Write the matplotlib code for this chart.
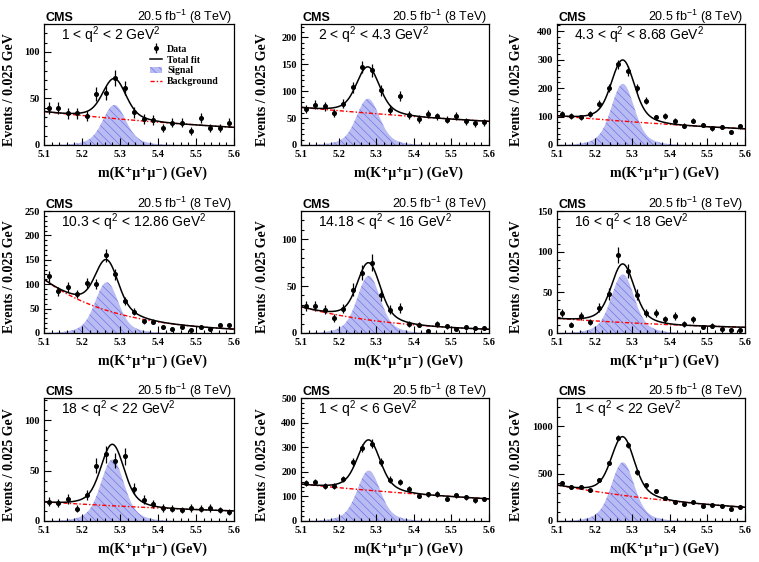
import numpy as np
import matplotlib
matplotlib.use('Agg')
import matplotlib.pyplot as plt
from matplotlib.lines import Line2D
from matplotlib.patches import Patch
from matplotlib.ticker import MultipleLocator

SERIF = ['Liberation Serif', 'DejaVu Serif']
SANS = ['Liberation Sans', 'DejaVu Sans']
plt.rcParams['hatch.linewidth'] = 0.45
plt.rcParams['mathtext.fontset'] = 'custom'
plt.rcParams['mathtext.rm'] = 'Liberation Sans'
plt.rcParams['mathtext.it'] = 'Liberation Sans:italic'
plt.rcParams['mathtext.bf'] = 'Liberation Sans:bold'
plt.rcParams['mathtext.default'] = 'rm'

# --- Binning: 20 bins of 0.025 GeV from 5.1 to 5.6 ---
M_LO, M_HI, BIN_W = 5.1, 5.6, 0.025
centres = M_LO + BIN_W * (np.arange(20) + 0.5)

q2_labels = [r'1 < q$^{2}$ < 2 GeV$^{2}$', r'2 < q$^{2}$ < 4.3 GeV$^{2}$',
             r'4.3 < q$^{2}$ < 8.68 GeV$^{2}$', r'10.3 < q$^{2}$ < 12.86 GeV$^{2}$',
             r'14.18 < q$^{2}$ < 16 GeV$^{2}$', r'16 < q$^{2}$ < 18 GeV$^{2}$',
             r'18 < q$^{2}$ < 22 GeV$^{2}$', r'1 < q$^{2}$ < 6 GeV$^{2}$',
             r'1 < q$^{2}$ < 22 GeV$^{2}$']

# --- Data (events per bin) ---
c_1_2      = [40, 40, 34, 34, 31, 55, 56, 72, 61, 35, 28, 27, 18, 24, 24, 15, 29, 18, 18, 24]
c_2_43     = [67, 75, 72, 60, 77, 107, 145, 139, 102, 66, 91, 55, 48, 57, 53, 47, 54, 44, 40, 42]
c_43_868   = [108, 103, 97, 109, 145, 199, 283, 260, 199, 156, 97, 101, 84, 68, 85, 70, 58, 64, 46, 65]
c_103_1286 = [116, 86, 94, 80, 102, 101, 159, 120, 66, 44, 24, 23, 12, 8, 12, 6, 12, 8, 17, 17]
c_1418_16  = [29, 29, 25, 16, 26, 46, 64, 75, 41, 25, 27, 10, 9, 2, 10, 7, 4, 6, 5, 5]
c_16_18    = [25, 10, 21, 14, 31, 48, 96, 76, 47, 24, 24, 17, 21, 11, 17, 7, 9, 5, 4, 4]
c_18_22    = [19, 18, 22, 12, 26, 55, 66, 60, 64, 32, 21, 17, 13, 12, 11, 13, 12, 13, 11, 9]
c_1_6      = [155, 157, 142, 141, 170, 240, 297, 315, 239, 168, 160, 130, 102, 109, 110, 91, 105, 97, 84, 90]
c_1_22     = [404, 357, 364, 325, 436, 614, 882, 804, 514, 382, 314, 246, 196, 179, 204, 157, 168, 154, 129, 146]
all_counts = [c_1_2, c_2_43, c_43_868, c_103_1286, c_1418_16, c_16_18, c_18_22, c_1_6, c_1_22]

# --- Fit results (signal peak height / mean, background at 5.1 and 5.6) ---
sig_peak = [43, 86, 215, 104, 61, 72, 61, 205, 620]
sig_mean = [5.285, 5.278, 5.275, 5.265, 5.28, 5.275, 5.28, 5.28, 5.275]
bg_lo    = [36, 70, 103, 110, 28, 18, 19, 150, 380]
bg_hi    = [19, 44, 57, 8, 4, 7, 10, 90, 145]
SIG_CORE, SIG_WIDE, WIDE_FRAC = 0.028, 0.055, 0.2

y_top   = [130, 225, 425, 250, 130, 150, 122, 500, 1300]
y_major = [50, 50, 100, 50, 50, 50, 50, 100, 500]

SIG_FACE, SIG_HATCH = '#b9bcf3', '#6a6fe4'
BKG_LS = (0, (3, 1.5, 1, 1.5))

# --- Layout in pixels (left, right) / (top, bottom) ---
W, H = 759, 562
cols = [(44, 234), (301, 489), (557, 745)]
rows = [(24, 145), (211, 333), (398, 521)]
ylab_x = [-0.179, -0.207, -0.218]

fig = plt.figure(figsize=(W / 100, H / 100), dpi=100, facecolor='white')
mm = np.linspace(M_LO, M_HI, 500)

for k in range(9):
    r, c = divmod(k, 3)
    (x0, x1), (t, b) = cols[c], rows[r]
    ax = fig.add_axes([x0 / W, 1 - b / H, (x1 - x0) / W, (b - t) / H])

    d = mm - sig_mean[k]
    sig = sig_peak[k] * ((1 - WIDE_FRAC) * np.exp(-0.5 * (d / SIG_CORE) ** 2)
                         + WIDE_FRAC * np.exp(-0.5 * (d / SIG_WIDE) ** 2))
    slope = np.log(bg_lo[k] / bg_hi[k]) / (M_HI - M_LO)
    bkg = bg_lo[k] * np.exp(-slope * (mm - M_LO))

    ax.fill_between(mm, 0, sig, facecolor=SIG_FACE, edgecolor=SIG_HATCH,
                    hatch='\\\\\\\\', linewidth=0, zorder=1)
    ax.plot(mm, bkg, color='red', ls=BKG_LS, lw=1.0, zorder=2)
    ax.plot(mm, sig + bkg, color='black', lw=1.1, zorder=3)
    cnt = np.array(all_counts[k], dtype=float)
    eb = ax.errorbar(centres, cnt, yerr=np.sqrt(cnt), fmt='o', ms=2.6, color='black',
                     elinewidth=0.9, capsize=0, zorder=4)

    ax.set_xlim(M_LO, M_HI)
    ax.set_ylim(0, y_top[k])
    ax.xaxis.set_major_locator(MultipleLocator(0.1))
    ax.xaxis.set_minor_locator(MultipleLocator(0.02))
    ax.yaxis.set_major_locator(MultipleLocator(y_major[k]))
    ax.yaxis.set_minor_locator(MultipleLocator(y_major[k] / 5))
    ax.tick_params(which='both', direction='in', top=False, right=False, width=0.8)
    ax.tick_params(which='major', length=5)
    ax.tick_params(which='minor', length=2.5)
    ax.tick_params(axis='x', pad=3.5)
    ax.tick_params(axis='y', pad=3)
    for lab in ax.get_xticklabels() + ax.get_yticklabels():
        lab.set_family(SERIF)
        lab.set_fontweight('bold')
        lab.set_fontsize(7.5)
    for sp in ax.spines.values():
        sp.set_linewidth(0.9)

    ax.text(ylab_x[c], 0.46, 'Events / 0.025 GeV', transform=ax.transAxes, rotation=90,
            ha='center', va='center', family=SERIF, fontweight='bold', fontsize=10)
    ax.text(0.57, -0.23, 'm(K⁺μ⁺μ⁻) (GeV)', transform=ax.transAxes,
            ha='center', va='center', family=SERIF, fontweight='bold', fontsize=10)

    ax.text(0.01, 1.025, 'CMS', transform=ax.transAxes, ha='left', va='baseline',
            family=SANS, fontweight='bold', fontsize=9)
    ax.text(0.99, 1.025, r'20.5 fb$^{-1}$ (8 TeV)', transform=ax.transAxes, ha='right',
            va='baseline', family=SANS, fontsize=9)
    ax.text(0.09, 0.905, q2_labels[k], transform=ax.transAxes, ha='left', va='center',
            family=SANS, fontsize=10)

    if k == 0:
        handles = [eb,
                   Line2D([], [], color='black', lw=1.1),
                   Patch(facecolor=SIG_FACE, edgecolor=SIG_HATCH, hatch='\\\\\\\\', lw=0),
                   Line2D([], [], color='red', ls=BKG_LS, lw=1.0)]
        ax.legend(handles, ['Data', 'Total fit', 'Signal', 'Background'],
                  loc='upper left', bbox_to_anchor=(0.53, 0.87), frameon=False,
                  prop={'family': SERIF, 'weight': 'bold', 'size': 7},
                  handlelength=1.3, handleheight=0.7, labelspacing=0.2,
                  borderpad=0, handletextpad=0.5)

fig.savefig('out.png', dpi=100, facecolor='white')
plt.close(fig)
